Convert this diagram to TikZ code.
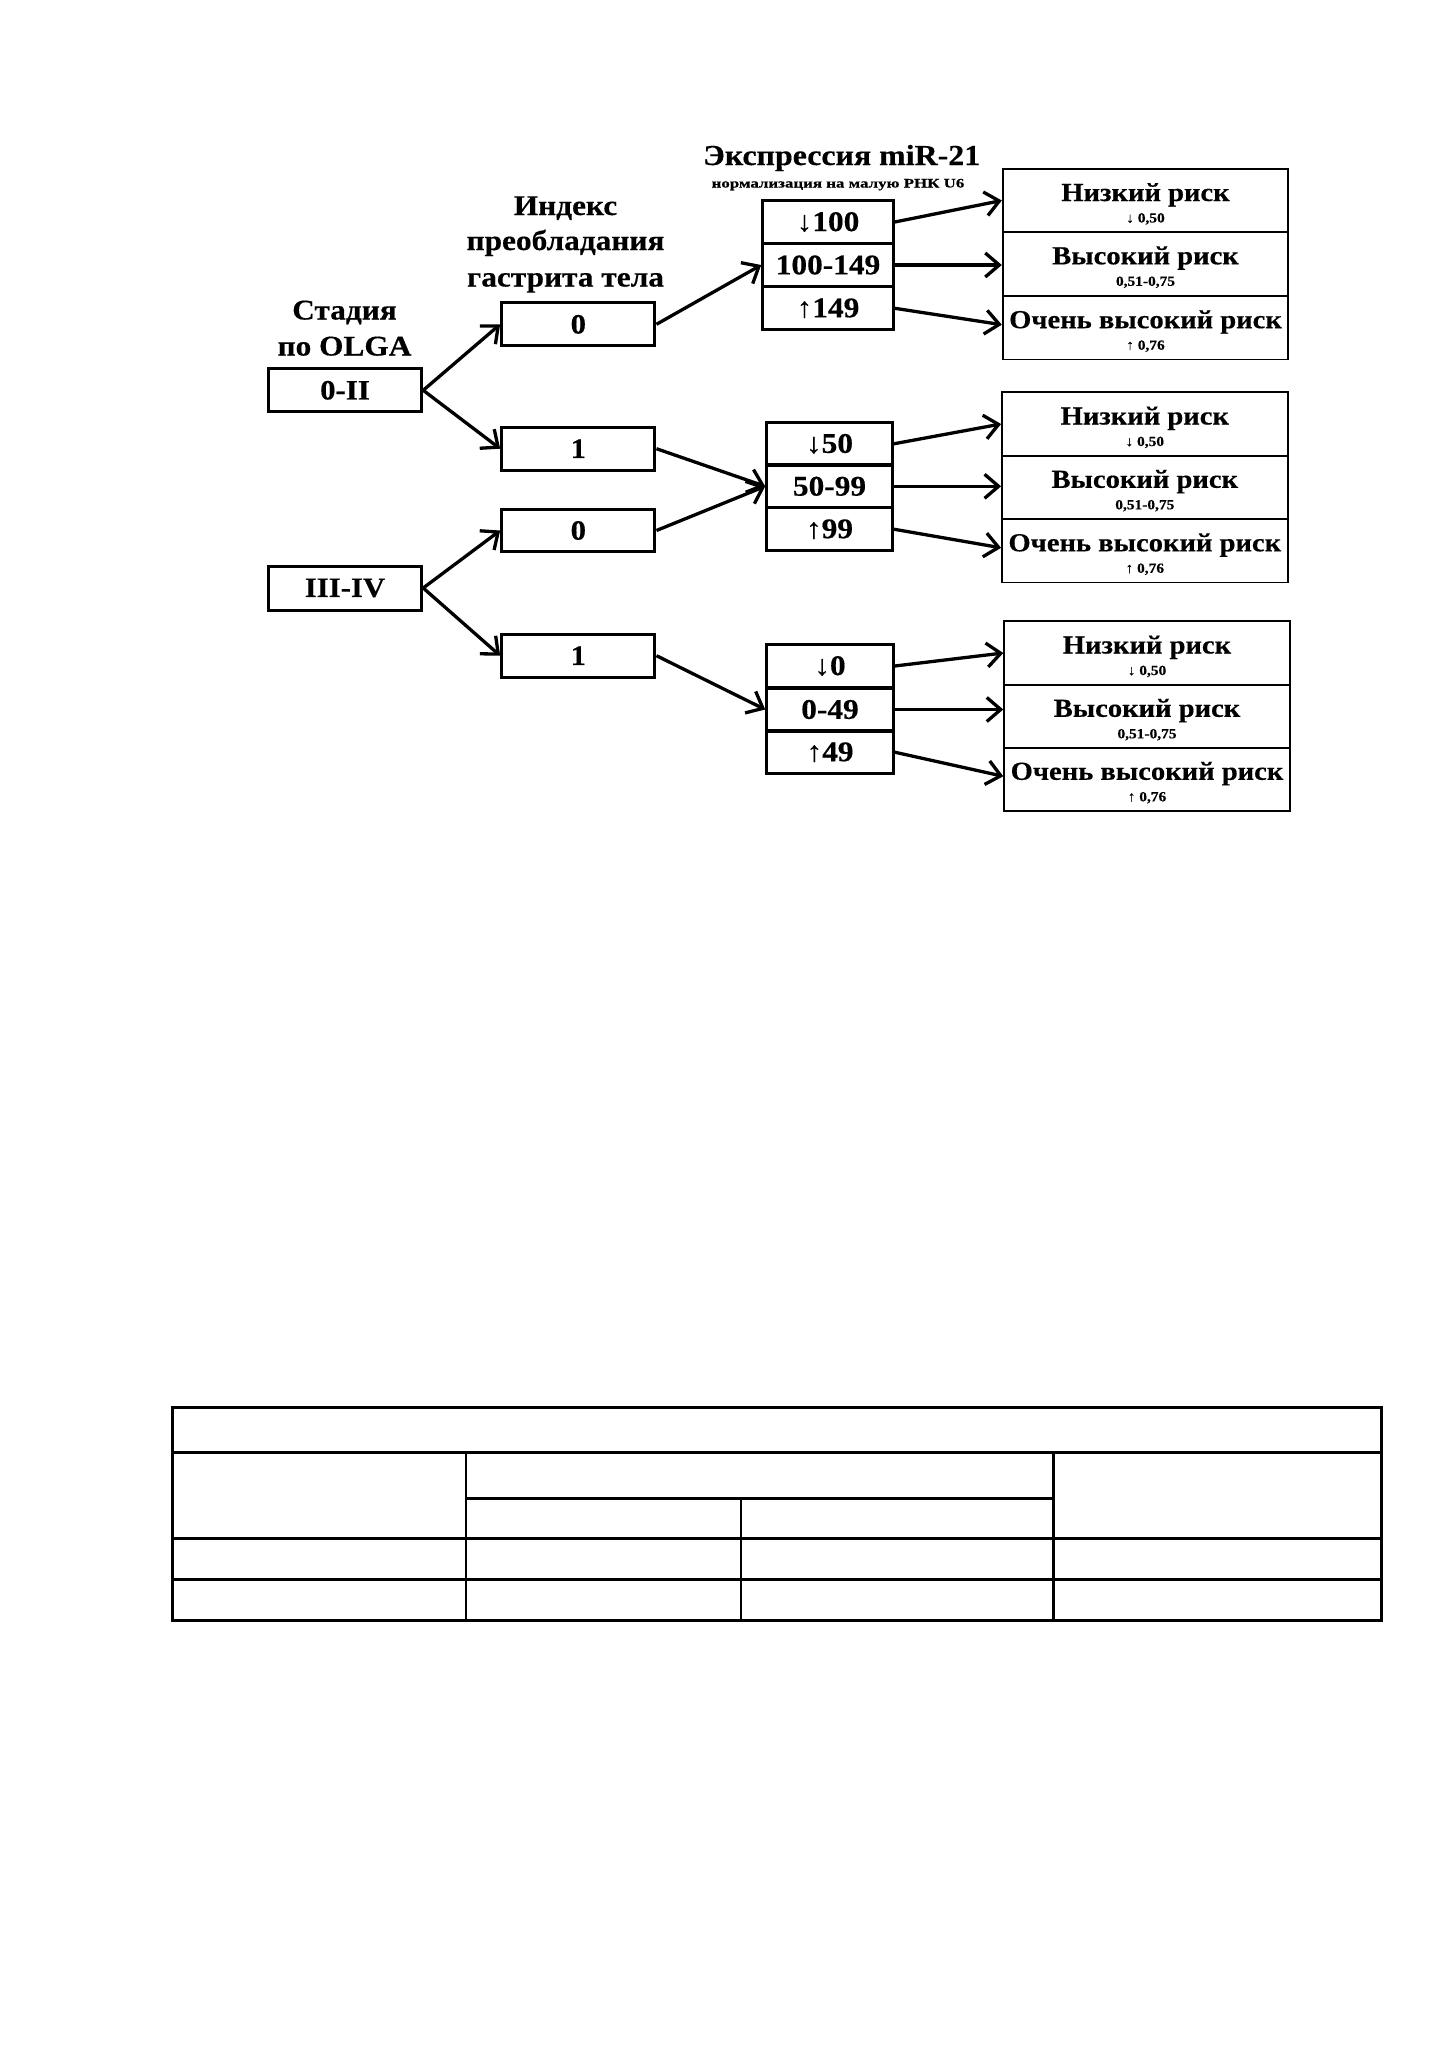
\documentclass[tikz,border=0pt]{standalone}
\usepackage{fontspec}
\setmainfont{Liberation Serif}[FakeStretch=1.1, BoldFeatures={FakeBold=0.4}]
\newfontfamily\narrowsub{Liberation Serif}[FakeStretch=1.3, BoldFeatures={FakeBold=0.4}]
\usetikzlibrary{arrows.meta,calc}
\begin{document}
\begin{tikzpicture}[x=1pt,y=-1pt,
  head/.style={font=\fontsize{28.5}{30}\selectfont\bfseries, inner sep=0pt, anchor=base},
  stagebox/.style={draw, line width=3pt, inner sep=0pt, minimum width=153.4pt, minimum height=42.7pt, font=\fontsize{28}{30}\selectfont\bfseries},
  valbox/.style={draw, line width=3pt, inner sep=0pt, minimum height=43pt, font=\fontsize{28.5}{30}\selectfont\bfseries},
  riskbox/.style={draw, line width=1.8pt, inner sep=0pt, minimum width=285.6pt, minimum height=63.5pt},
  risktitle/.style={font=\fontsize{26}{28}\selectfont\bfseries, inner sep=0pt, anchor=base},
  risksub/.style={font=\fontsize{14}{16}\selectfont\bfseries, inner sep=0pt, anchor=base},
  conn/.style={line width=3.3pt, -{Straight Barb[length=14pt,width=24pt]}},
  tbl/.style={line width=3pt},
  tblin/.style={line width=2.4pt}
]
\useasboundingbox (0,0) rectangle (1449,2050);
\fill[white] (0,0) rectangle (1449,2050);

% ---- headings
\node[head] (h1a) at (344.5,319.5) {Стадия};
\node[head] (h1b) at (344.5,355.5) {по OLGA};
\node[head] (h2a) at (565.5,215) {Индекс};
\node[head] (h2b) at (565.5,250) {преобладания};
\node[head] (h2c) at (565.5,286.5) {гастрита тела};
\node[head, font=\fontsize{29}{30}\selectfont\bfseries] (h3a) at (841.7,165) {Экспрессия miR-21};
\node[anchor=base, inner sep=0pt, font=\fontsize{13}{14}\narrowsub\bfseries] (h3b) at (838,187.5) {нормализация на малую РНК U6};

% ---- stage boxes
\node[stagebox] (s1) at (345,390.3) {0-II};
\node[stagebox, minimum height=44pt] (s2) at (345,588) {III-IV};

% ---- index boxes
\node[stagebox, minimum width=153.3pt] (i1) at (578.3,324.3) {0};
\node[stagebox, minimum width=153.3pt] (i2) at (578.3,448.7) {1};
\node[stagebox, minimum width=153.3pt] (i3) at (578.3,530.5) {0};
\node[stagebox, minimum width=153.3pt] (i4) at (578.3,655.7) {1};

% ---- expression value stacks
\node[valbox, minimum width=130.6pt] (v11) at (828,222) {↓100};
\node[valbox, minimum width=130.6pt] (v12) at (828,265) {100-149};
\node[valbox, minimum width=130.6pt] (v13) at (828,308.3) {↑149};

\node[valbox, minimum width=125.6pt] (v21) at (829.5,443.8) {↓50};
\node[valbox, minimum width=125.6pt] (v22) at (829.5,486.3) {50-99};
\node[valbox, minimum width=125.6pt] (v23) at (829.5,529.2) {↑99};

\node[valbox, minimum width=126.6pt] (v31) at (830,666) {↓0};
\node[valbox, minimum width=126.6pt] (v32) at (830,709.5) {0-49};
\node[valbox, minimum width=126.6pt] (v33) at (830,752.2) {↑49};

% ---- risk boxes
\node[riskbox] (r11) at (1145.5,200.5) {};
\node[riskbox] (r12) at (1145.5,263.8) {};
\node[riskbox] (r13) at (1145.5,327.7) {};
\node[riskbox] (r21) at (1144.8,424) {};
\node[riskbox] (r22) at (1144.8,487.3) {};
\node[riskbox] (r23) at (1144.8,550.8) {};
\node[riskbox] (r31) at (1147,653) {};
\node[riskbox] (r32) at (1147,716.3) {};
\node[riskbox] (r33) at (1147,779.3) {};

\foreach \g in {1,2,3}{
  \node[risktitle] (r\g1t) at ($(r\g1.center)+(0,0.5)$) {Низкий риск};
  \node[risksub]   (r\g1s) at ($(r\g1.center)+(0,22)$) {↓ 0,50};
  \node[risktitle] (r\g2t) at ($(r\g2.center)+(0,0.5)$) {Высокий риск};
  \node[risksub]   (r\g2s) at ($(r\g2.center)+(0,22)$) {0,51-0,75};
  \node[risktitle] (r\g3t) at ($(r\g3.center)+(0,0.5)$) {Очень высокий риск};
  \node[risksub]   (r\g3s) at ($(r\g3.center)+(0,22)$) {↑ 0,76};
}

% ---- connectors
\draw[conn] (s1.east) -- (i1.west);
\draw[conn] (s1.east) -- (i2.west);
\draw[conn] (s2.east) -- (i3.west);
\draw[conn] (s2.east) -- (i4.west);

\draw[conn] (i1.east) -- (v12.west);
\draw[conn] (i2.east) -- (v22.west);
\draw[conn] (i3.east) -- (v22.west);
\draw[conn] (i4.east) -- (v32.west);

\foreach \g in {1,2,3}{
  \draw[conn] (v\g1.east) -- (r\g1.west);
  \draw[conn] (v\g2.east) -- (v\g2.east -| r\g2.west);
  \draw[conn] (v\g3.east) -- ($(r\g3.west)+(0,-3)$);
}

% ---- empty table
\draw[tbl] (172.5,1407.5) rectangle (1381,1620);
\draw[tbl] (172.5,1452.5) -- (1381,1452.5);
\draw[tbl] (466,1498) -- (1053.5,1498);
\draw[tbl] (172.5,1538.5) -- (1381,1538.5);
\draw[tbl] (172.5,1579.5) -- (1381,1579.5);
\draw[tblin] (466,1452.5) -- (466,1620);
\draw[tblin] (741,1498) -- (741,1620);
\draw[tblin] (1053.5,1452.5) -- (1053.5,1620);
\end{tikzpicture}
\end{document}
